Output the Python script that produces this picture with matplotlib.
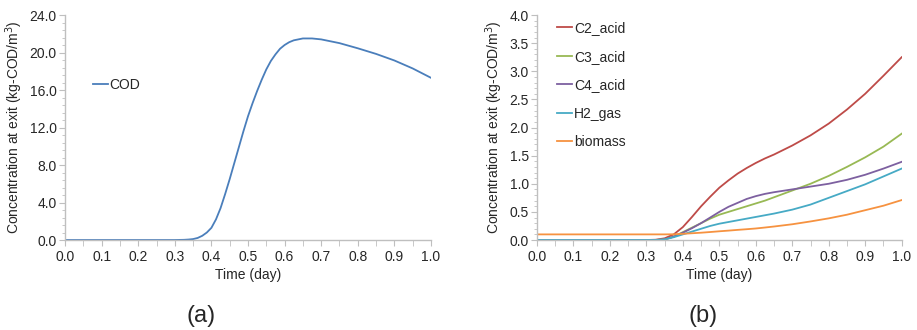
import numpy as np
import matplotlib
matplotlib.use("Agg")
import matplotlib.pyplot as plt
from matplotlib.ticker import MultipleLocator, FormatStrFormatter

plt.rcParams['font.family'] = ['Liberation Sans', 'DejaVu Sans']

# (a) total COD at exit
cod_t = [0.0, 0.1, 0.2, 0.3, 0.325, 0.3375, 0.35, 0.3625, 0.375, 0.3875, 0.4,
         0.4125, 0.425, 0.4375, 0.45, 0.4625, 0.475, 0.4875, 0.5, 0.5125,
         0.525, 0.5375, 0.55, 0.5625, 0.575, 0.5875, 0.6, 0.6125, 0.625,
         0.65, 0.675, 0.7, 0.75, 0.8, 0.85, 0.9, 0.95, 1.0]
cod = [0.0, 0.0, 0.0, 0.0, 0.02, 0.05, 0.1, 0.22, 0.45, 0.8, 1.3,
       2.2, 3.4, 4.9, 6.5, 8.2, 9.9, 11.6, 13.2, 14.6,
       15.9, 17.1, 18.2, 19.1, 19.8, 20.4, 20.8, 21.1, 21.3,
       21.5, 21.5, 21.4, 21.0, 20.45, 19.85, 19.15, 18.3, 17.3]

# (b) components at exit
t = [0.0, 0.1, 0.2, 0.3, 0.325, 0.35, 0.375, 0.4, 0.425, 0.45, 0.475, 0.5,
     0.525, 0.55, 0.575, 0.6, 0.625, 0.65, 0.7, 0.75, 0.8, 0.85, 0.9, 0.95,
     1.0]
c2_acid = [0.0, 0.0, 0.0, 0.0, 0.005, 0.03, 0.1, 0.23, 0.41, 0.6, 0.77, 0.93,
           1.06, 1.18, 1.28, 1.37, 1.45, 1.52, 1.68, 1.86, 2.07, 2.32, 2.6,
           2.92, 3.25]
c3_acid = [0.0, 0.0, 0.0, 0.0, 0.0, 0.01, 0.06, 0.14, 0.22, 0.3, 0.38, 0.45,
           0.5, 0.55, 0.6, 0.65, 0.7, 0.76, 0.88, 1.0, 1.14, 1.3, 1.47, 1.66,
           1.89]
c4_acid = [0.0, 0.0, 0.0, 0.0, 0.0, 0.01, 0.06, 0.13, 0.21, 0.3, 0.4, 0.5,
           0.59, 0.66, 0.73, 0.78, 0.82, 0.85, 0.9, 0.95, 1.0, 1.07, 1.16,
           1.27, 1.39]
h2_gas = [0.0, 0.0, 0.0, 0.0, 0.0, 0.01, 0.05, 0.1, 0.15, 0.2, 0.25, 0.29,
          0.32, 0.35, 0.38, 0.41, 0.44, 0.47, 0.54, 0.63, 0.75, 0.87, 0.99,
          1.13, 1.27]
biomass = [0.1, 0.1, 0.1, 0.1, 0.1, 0.1, 0.102, 0.11, 0.12, 0.13, 0.142, 0.155,
           0.167, 0.18, 0.192, 0.205, 0.222, 0.24, 0.28, 0.33, 0.385, 0.45,
           0.53, 0.61, 0.71]

series_b = [("C2_acid", c2_acid, "#BE4B48"),
            ("C3_acid", c3_acid, "#98B954"),
            ("C4_acid", c4_acid, "#7D60A0"),
            ("H2_gas", h2_gas, "#46AAC5"),
            ("biomass", biomass, "#F69240")]

ylabel = "Concentration at exit (kg-COD/m$^3$)"
axis_grey = "#BFBFBF"
text_col = "#262626"


def style_axes(ax, ymax, ymajor, yfmt):
    for side in ("top", "right"):
        ax.spines[side].set_visible(False)
    for side in ("left", "bottom"):
        ax.spines[side].set_color(axis_grey)
        ax.spines[side].set_linewidth(1.0)
    ax.set_xlim(0, 1.0)
    ax.set_ylim(0, ymax)
    ax.xaxis.set_major_locator(MultipleLocator(0.1))
    ax.xaxis.set_minor_locator(MultipleLocator(0.05))
    ax.xaxis.set_major_formatter(FormatStrFormatter("%.1f"))
    ax.yaxis.set_major_locator(MultipleLocator(ymajor))
    ax.yaxis.set_minor_locator(MultipleLocator(ymajor / 5))
    ax.yaxis.set_major_formatter(FormatStrFormatter(yfmt))
    ax.tick_params(axis="x", which="both", direction="out", length=4,
                   color=axis_grey, labelsize=10, labelcolor=text_col, pad=3)
    ax.tick_params(axis="y", which="major", direction="out", length=4,
                   color=axis_grey, labelsize=10, labelcolor=text_col, pad=2)
    ax.tick_params(axis="y", which="minor", direction="out", length=2.5,
                   color=axis_grey)
    ax.set_xlabel("Time (day)", fontsize=10, color=text_col, labelpad=3)
    ax.set_ylabel(ylabel, fontsize=10, color=text_col, labelpad=3)


fig = plt.figure(figsize=(9.17, 3.30), dpi=100)
ax1 = fig.add_axes([0.0709, 0.2727, 0.3991, 0.6818])
ax2 = fig.add_axes([0.5856, 0.2727, 0.3977, 0.6818])

ax1.plot(cod_t, cod, color="#4A7EBB", lw=1.3, label="COD")
style_axes(ax1, 24, 4.0, "%.1f")
ax1.legend(loc="upper left", bbox_to_anchor=(0.06, 0.745), frameon=False,
           fontsize=10, handlelength=1.1, handletextpad=0.1,
           borderaxespad=0, labelcolor=text_col)

for name, vals, col in series_b:
    ax2.plot(t, vals, color=col, lw=1.3, label=name)
style_axes(ax2, 4.0, 0.5, "%.1f")
ax2.legend(loc="upper left", bbox_to_anchor=(0.04, 0.998), frameon=False,
           fontsize=10, handlelength=1.1, handletextpad=0.1,
           labelspacing=1.05, borderaxespad=0, labelcolor=text_col)

fig.text(0.219, 0.025, "(a)", fontsize=17, color=text_col, ha="center")
fig.text(0.767, 0.025, "(b)", fontsize=17, color=text_col, ha="center")

fig.savefig("out.png", dpi=100)
